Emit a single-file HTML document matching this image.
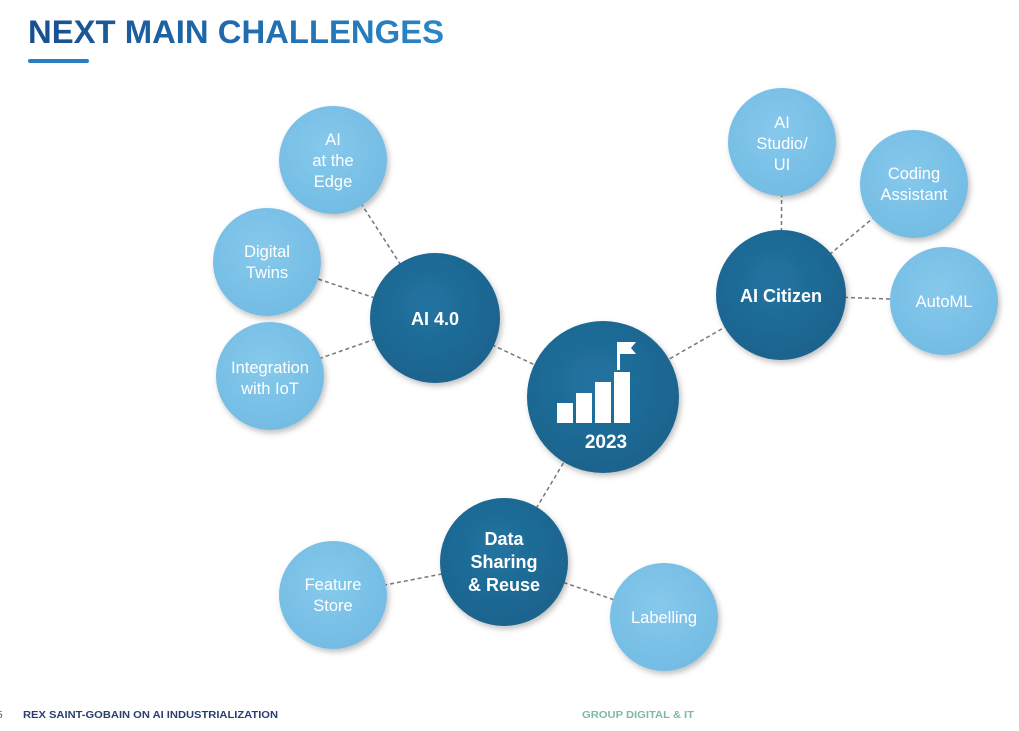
<!DOCTYPE html>
<html><head><meta charset="utf-8"><style>
html,body{margin:0;padding:0;background:#fff;}
svg{display:block;font-family:"Liberation Sans",sans-serif;}
</style></head><body>
<svg width="1019" height="731" viewBox="0 0 1019 731">
<defs>
<linearGradient id="tg" x1="0" x2="1"><stop offset="0" stop-color="#174f8f"/><stop offset="1" stop-color="#2a86c8"/></linearGradient>
<radialGradient id="gd" cx="45%" cy="40%" r="65%"><stop offset="0" stop-color="#2273a0"/><stop offset="1" stop-color="#1a628c"/></radialGradient>
<radialGradient id="gl" cx="45%" cy="40%" r="65%"><stop offset="0" stop-color="#86c9ec"/><stop offset="1" stop-color="#72bbe3"/></radialGradient>
<filter id="sh" x="-20%" y="-20%" width="140%" height="140%"><feDropShadow dx="2" dy="3" stdDeviation="3" flood-color="#000" flood-opacity="0.25"/></filter>
</defs>
<text x="28" y="43" font-size="32" font-weight="bold" fill="url(#tg)" textLength="416" lengthAdjust="spacingAndGlyphs">NEXT MAIN CHALLENGES</text>
<rect x="28" y="59" width="61" height="4" rx="2" fill="#2a7fc4"/>
<g stroke="#777" stroke-width="1.5" stroke-dasharray="4,3" fill="none">
<line x1="603" y1="397" x2="435" y2="318"/>
<line x1="603" y1="397" x2="781" y2="295"/>
<line x1="603" y1="397" x2="504" y2="562"/>
<line x1="435" y1="318" x2="333" y2="160"/>
<line x1="435" y1="318" x2="267" y2="262"/>
<line x1="435" y1="318" x2="270" y2="376"/>
<line x1="781" y1="295" x2="782" y2="142"/>
<line x1="781" y1="295" x2="914" y2="184"/>
<line x1="781" y1="295" x2="944" y2="301"/>
<line x1="504" y1="562" x2="333" y2="595"/>
<line x1="504" y1="562" x2="664" y2="617"/>
</g>
<g font-size="16.5" fill="#fff" text-anchor="middle">
<g><circle cx="333" cy="160" r="54" fill="url(#gl)" filter="url(#sh)"/><text x="333" y="145">AI</text><text x="333" y="166">at the</text><text x="333" y="187">Edge</text></g>
<g><circle cx="267" cy="262" r="54" fill="url(#gl)" filter="url(#sh)"/><text x="267" y="257">Digital</text><text x="267" y="278">Twins</text></g>
<g><circle cx="270" cy="376" r="54" fill="url(#gl)" filter="url(#sh)"/><text x="270" y="373">Integration</text><text x="270" y="394">with IoT</text></g>
<g><circle cx="782" cy="142" r="54" fill="url(#gl)" filter="url(#sh)"/><text x="782" y="128">AI</text><text x="782" y="149">Studio/</text><text x="782" y="170">UI</text></g>
<g><circle cx="914" cy="184" r="54" fill="url(#gl)" filter="url(#sh)"/><text x="914" y="179">Coding</text><text x="914" y="200">Assistant</text></g>
<g><circle cx="944" cy="301" r="54" fill="url(#gl)" filter="url(#sh)"/><text x="944" y="307">AutoML</text></g>
<g><circle cx="333" cy="595" r="54" fill="url(#gl)" filter="url(#sh)"/><text x="333" y="590">Feature</text><text x="333" y="611">Store</text></g>
<g><circle cx="664" cy="617" r="54" fill="url(#gl)" filter="url(#sh)"/><text x="664" y="623">Labelling</text></g>
</g>
<g font-size="18" font-weight="bold" fill="#fff" text-anchor="middle">
<g><circle cx="435" cy="318" r="65" fill="url(#gd)" filter="url(#sh)"/><text x="435" y="325">AI 4.0</text></g>
<g><circle cx="781" cy="295" r="65" fill="url(#gd)" filter="url(#sh)"/><text x="781" y="302">AI Citizen</text></g>
<g><circle cx="504" cy="562" r="64" fill="url(#gd)" filter="url(#sh)"/><text x="504" y="545">Data</text><text x="504" y="568">Sharing</text><text x="504" y="591">&amp; Reuse</text></g>
<g><circle cx="603" cy="397" r="76" fill="url(#gd)" filter="url(#sh)"/>
<g fill="#fff">
<rect x="557" y="403" width="16" height="20"/><rect x="576" y="393" width="16" height="30"/><rect x="595" y="382" width="16" height="41"/><rect x="614" y="372" width="16" height="51"/>
<rect x="617" y="342" width="3" height="28"/><polygon points="620,342 636,342 631,348 636,354 620,354"/></g>
<text x="606" y="448" font-size="19">2023</text></g>
</g>
<text x="-3" y="718" font-size="10" fill="#555">5</text>
<text x="23" y="718" font-size="10" font-weight="bold" fill="#2a3f6e" textLength="255" lengthAdjust="spacingAndGlyphs">REX SAINT-GOBAIN ON AI INDUSTRIALIZATION</text>
<text x="582" y="718" font-size="10" font-weight="bold" fill="#7fb8a8" textLength="112" lengthAdjust="spacingAndGlyphs">GROUP DIGITAL &amp; IT</text>
</svg>
</body></html>
